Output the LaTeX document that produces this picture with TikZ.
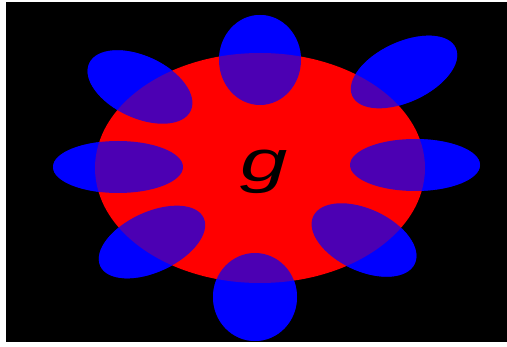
\documentclass[tikz,border=0pt]{standalone}
\usepackage{fontspec}
\newfontfamily\gfont{Liberation Sans}
\tikzset{
  petal/.style={fill=blue},
  petaltop/.style={fill=blue, fill opacity=0.7},
}
\newcommand{\petals}[1]{%
  \fill[#1] (260,60) ellipse (41 and 45);
  \fill[#1] (255,297) ellipse (42 and 44);
  \fill[#1] (118,167) ellipse (65 and 26);
  \fill[#1] (415,165) ellipse (65 and 26);
  \fill[#1, rotate around={-25:(140,87)}] (140,87) ellipse (56 and 31);
  \fill[#1, rotate around={25:(404,72)}] (404,72) ellipse (57 and 30);
  \fill[#1, rotate around={25:(152,242)}] (152,242) ellipse (57 and 30);
  \fill[#1, rotate around={-25:(364,240)}] (364,240) ellipse (56 and 31);
}
\begin{document}
\begin{tikzpicture}[x=0.03cm,y=-0.03cm]
\fill[white] (0,0) rectangle (507,347);
\fill[black] (6,2) rectangle (507,342);

\petals{petal}
\fill[red] (260,168) ellipse (165 and 115);
\petals{petaltop}

\node[xscale=1.45, font=\gfont\itshape\fontsize{50}{50}\selectfont] (g) at (264,172) {g};
\end{tikzpicture}
\end{document}
